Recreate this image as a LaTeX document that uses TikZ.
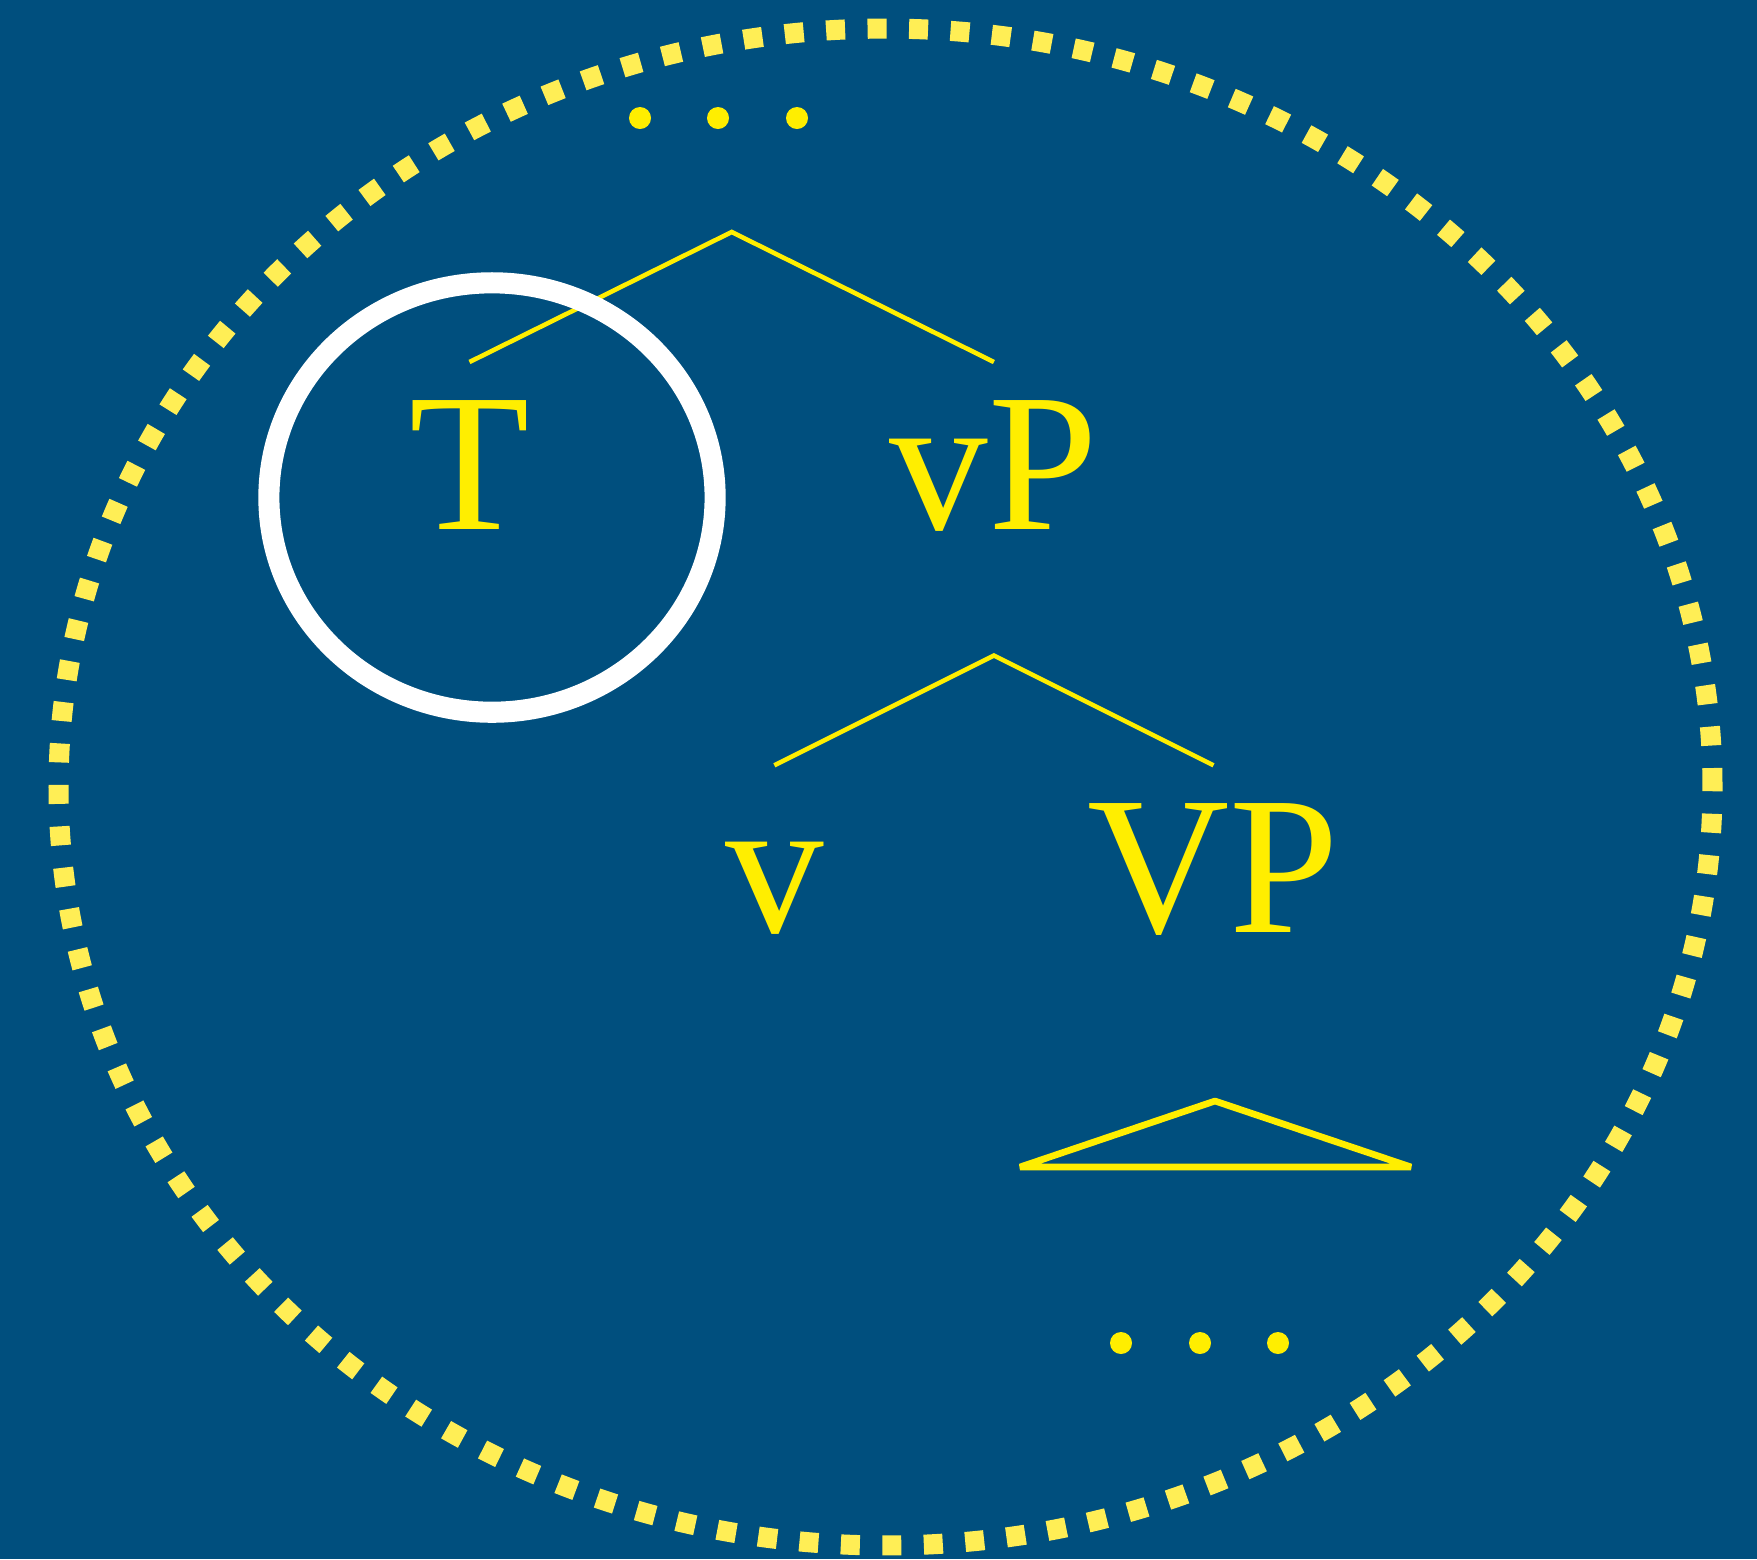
\documentclass[tikz,border=0pt]{standalone}
\usepackage{fontspec}
\setmainfont{Liberation Serif}
\usepackage{xcolor}
\usetikzlibrary{positioning}

\definecolor{fundo}{HTML}{004F7E}
\definecolor{amarelo}{HTML}{FFEE00}
\definecolor{amareloclaro}{HTML}{FFEE55}

\begin{document}
\begin{tikzpicture}[x=0.01cm, y=-0.01cm,
    rotulo/.style={text=amarelo, font=\fontsize{56}{60}\selectfont, anchor=base, inner sep=0pt},
    galho/.style={draw=amarelo, line width=1.3pt},
    ponto/.style={circle, fill=amarelo, inner sep=0pt, minimum size=0.22cm}]
        % fundo
        \fill[fundo] (0,0) rectangle (1757,1559);
        \useasboundingbox (0,0) rectangle (1757,1559);

        % contorno pontilhado
        \draw[amareloclaro, line width=5.7pt, dash pattern=on 5.4pt off 6.4pt]
            (885.5,787) ellipse (8.265cm and 7.58cm);

        % reticencias
        \node[ponto] (c1) at (640,118) {};
        \node[ponto] (c2) at (718,118) {};
        \node[ponto] (c3) at (797,118) {};
        \node[ponto] (b1) at (1121,1343) {};
        \node[ponto] (b2) at (1200,1343) {};
        \node[ponto] (b3) at (1278,1343) {};

        % T e vP
        \coordinate (tp) at (731.7,232);
        \coordinate (tpE) at (469.5,362);
        \coordinate (tpD) at (993.9,362);
        \node[rotulo] (T) at (469.5,529) {T};
        \node[rotulo] (vP) at (993.9,529) {vP};
        \draw[galho] (tpE) -- (tp) -- (tpD);

        % destaque de T
        \draw[white, line width=6pt] (492,497.5) ellipse (2.23cm and 2.146cm);

        % v e VP
        \coordinate (vp) at (993.9,655.5);
        \coordinate (vpE) at (774.3,765.3);
        \coordinate (vpD) at (1213.5,765.3);
        \node[rotulo] (v) at (774.3,932.3) {v};
        \node[rotulo] (VP) at (1213.5,932.3) {VP};
        \draw[galho] (vpE) -- (vp) -- (vpD);

        % triangulo sob VP
        \coordinate (tri) at (1215,1101);
        \coordinate (triE) at (1020,1167);
        \coordinate (triD) at (1411,1167);
        \draw[amarelo, line width=1.9pt, line join=bevel] (triE) -- (tri) -- (triD) -- cycle;
\end{tikzpicture}
\end{document}
